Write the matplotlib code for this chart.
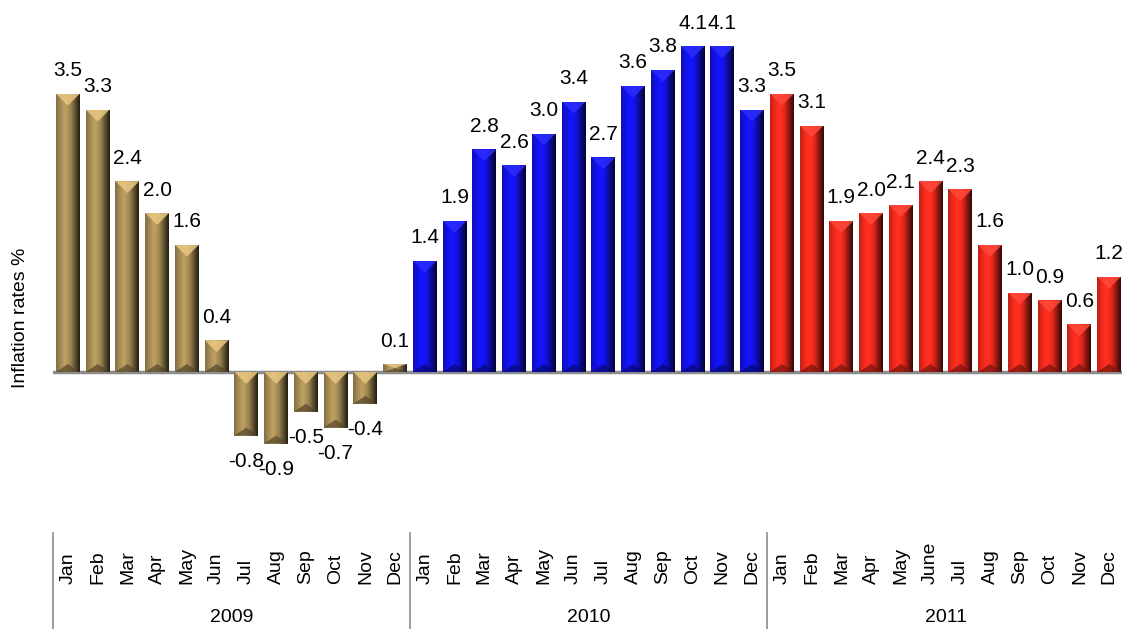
import numpy as np
import matplotlib
matplotlib.use('Agg')
import matplotlib.pyplot as plt
import matplotlib.transforms as mtransforms
from matplotlib.patches import Polygon

plt.rcParams['font.family'] = ['Liberation Sans', 'DejaVu Sans']

months = ['Jan', 'Feb', 'Mar', 'Apr', 'May', 'Jun',
          'Jul', 'Aug', 'Sep', 'Oct', 'Nov', 'Dec']
months_2011 = ['Jan', 'Feb', 'Mar', 'Apr', 'May', 'June',
               'Jul', 'Aug', 'Sep', 'Oct', 'Nov', 'Dec']
years = ['2009', '2010', '2011']

rates_2009 = [3.5, 3.3, 2.4, 2.0, 1.6, 0.4, -0.8, -0.9, -0.5, -0.7, -0.4, 0.1]
rates_2010 = [1.4, 1.9, 2.8, 2.6, 3.0, 3.4, 2.7, 3.6, 3.8, 4.1, 4.1, 3.3]
rates_2011 = [3.5, 3.1, 1.9, 2.0, 2.1, 2.4, 2.3, 1.6, 1.0, 0.9, 0.6, 1.2]

# base colour of each year's bars (r, g, b in 0..1)
year_colors = [(0.64, 0.54, 0.33), (0.07, 0.07, 0.88), (0.92, 0.16, 0.11)]

values = rates_2009 + rates_2010 + rates_2011
labels = months + months + months_2011
groups = [0] * 12 + [1] * 12 + [2] * 12

W, H = 1122, 629
fig = plt.figure(figsize=(W / 100, H / 100), dpi=100)

ax_left, ax_right = 53, 1124
ax_top, ax_bottom = 10, 500
zero_px = 372
px_per_unit = 79.5
ax = fig.add_axes([ax_left / W, 1 - ax_bottom / H,
                   (ax_right - ax_left) / W, (ax_bottom - ax_top) / H])
ax.set_xlim(-0.5, len(values) - 0.5)
ax.set_ylim(-(ax_bottom - zero_px) / px_per_unit, (zero_px - ax_top) / px_per_unit)
ax.axis('off')

bar_w = 0.8
x = np.arange(len(values))

# horizontal shading across a bar: brightness factor from left edge to right edge
pos = np.linspace(0, 1, 64)
shade = np.interp(pos, [0, 0.1, 0.38, 0.62, 0.85, 1.0],
                  [0.8, 0.92, 1.18, 0.95, 0.5, 0.22])

px_per_x = (ax_right - ax_left) / len(values)
top_bevel = (bar_w * px_per_x / 2) / px_per_unit
bottom_bevel = 8 / px_per_unit

ax.axhline(0, color='#8c8c8c', lw=2.5, zorder=1)

bars = ax.bar(x, values, width=bar_w, color=[year_colors[g] for g in groups],
              edgecolor='none', zorder=2)

for xi, v, g, patch in zip(x, values, groups, bars):
    base = np.array(year_colors[g])
    img = np.clip(base[None, None, :] * shade[None, :, None], 0, 1)
    x0, x1 = xi - bar_w / 2, xi + bar_w / 2
    y0, y1 = min(v, 0), max(v, 0)
    im = ax.imshow(img, extent=(x0, x1, y0, y1), aspect='auto',
                   interpolation='bilinear', zorder=3)
    im.set_clip_path(patch)

    h = y1 - y0
    d_top = min(top_bevel, h / 2)
    d_bot = min(bottom_bevel, h / 2)
    light = np.clip(base * 1.3 + 0.08, 0, 1)
    dark = base * 0.5
    tri_top = Polygon([(x0, y1), (x1, y1), (xi, y1 - d_top)], closed=True,
                      facecolor=light, edgecolor='none', alpha=0.85, zorder=4)
    tri_bot = Polygon([(x0, y0), (x1, y0), (xi, y0 + d_bot)], closed=True,
                      facecolor=dark, edgecolor='none', alpha=0.7, zorder=4)
    for tri in (tri_top, tri_bot):
        ax.add_patch(tri)
        tri.set_clip_path(patch)

    if v >= 0:
        ax.annotate(f'{v:.1f}', (xi, v), textcoords='offset pixels', xytext=(0, 23),
                    ha='center', va='center', fontsize=15, zorder=5)
    else:
        ax.annotate(f'{v:.1f}', (xi, v), textcoords='offset pixels', xytext=(0, -26),
                    ha='center', va='center', fontsize=15, zorder=5)

# category axis below the plot: months, years and year separators
trans = mtransforms.blended_transform_factory(ax.transData, fig.transFigure)
for xi, lab in zip(x, labels):
    ax.text(xi, 1 - 584 / H, lab, transform=trans, rotation=90,
            ha='center', va='bottom', fontsize=14, clip_on=False)

for k, yr in enumerate(years):
    ax.text(k * 12 + 5.5, 1 - 618 / H, yr, transform=trans,
            ha='center', va='center', fontsize=14, clip_on=False)

for k in range(len(years) + 1):
    ax.plot([k * 12 - 0.5] * 2, [1 - 533 / H, 0], transform=trans,
            color='#8c8c8c', lw=1.2, clip_on=False)

fig.text(21 / W, 1 - 318 / H, 'Inflation rates %', rotation=90,
         ha='center', va='center', fontsize=14)

fig.savefig('out.png', dpi=100)
